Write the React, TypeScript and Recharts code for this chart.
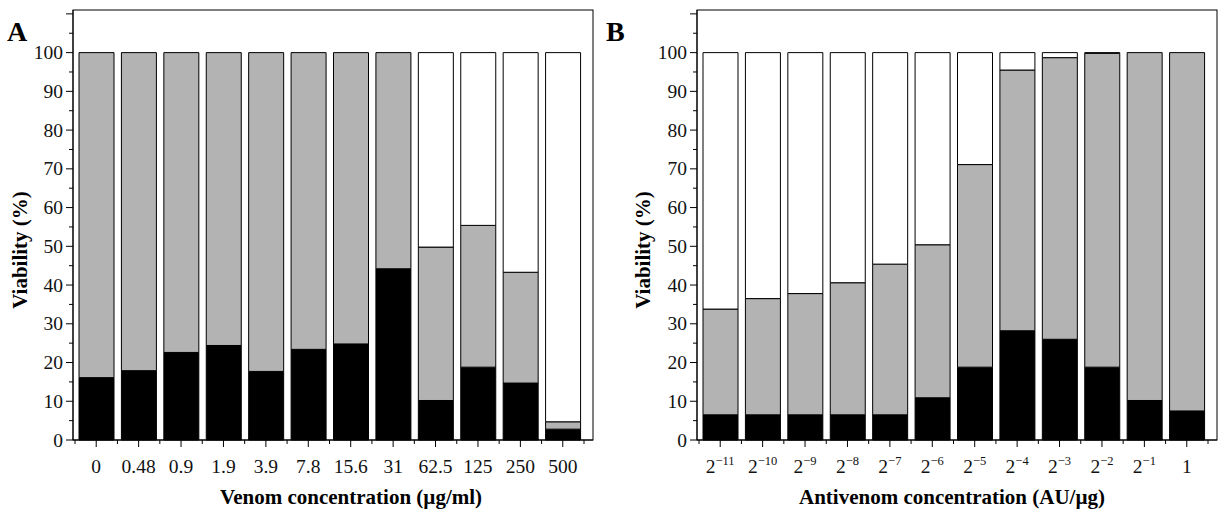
import { Bar, BarChart, XAxis, YAxis } from 'recharts';

const venomLabels = ['0', '0.48', '0.9', '1.9', '3.9', '7.8', '15.6', '31', '62.5', '125', '250', '500'];
const venomBlack = [16.1, 17.9, 22.6, 24.4, 17.7, 23.4, 24.8, 44.2, 10.2, 18.8, 14.7, 2.8];
const venomTop = [100, 100, 100, 100, 100, 100, 100, 100, 49.8, 55.4, 43.3, 4.7];

const antiLabels = ['2^-11', '2^-10', '2^-9', '2^-8', '2^-7', '2^-6', '2^-5', '2^-4', '2^-3', '2^-2', '2^-1', '1'];
const antiBlack = [6.5, 6.5, 6.5, 6.5, 6.5, 10.9, 18.8, 28.2, 26, 18.8, 10.2, 7.5];
const antiTop = [33.8, 36.5, 37.8, 40.6, 45.4, 50.4, 71.1, 95.5, 98.7, 99.8, 100, 100];

const yTicks = [0, 5, 10, 15, 20, 25, 30, 35, 40, 45, 50, 55, 60, 65, 70, 75, 80, 85, 90, 95, 100, 105, 110];

const FONT = "'Liberation Serif', 'Times New Roman', serif";
const GRAY = '#b3b3b3';
const PLOT_W = 520;
const PLOT_TOP = 10;
const PLOT_H = 430;
const PAD_L = 2;
const PAD_R = 9;

const build = (labels: string[], black: number[], top: number[]) =>
  labels.map((name, i) => ({
    name,
    black: black[i],
    gray: +(top[i] - black[i]).toFixed(2),
    white: +(100 - top[i]).toFixed(2),
  }));

const YTick = (props: any) => {
  const { x, y, payload } = props;
  const v = payload.value;
  const major = v % 10 === 0;
  return (
    <g>
      <line x1={x - (major ? 7 : 4)} x2={x} y1={y} y2={y} stroke="#000" />
      {major && v <= 100 && (
        <text x={x - 10} y={y} dy={6.5} textAnchor="end" fontFamily={FONT} fontSize={19.5} fill="#111">
          {v}
        </text>
      )}
    </g>
  );
};

const makeXTick = (n: number) => (props: any) => {
  const { x, y, payload, index } = props;
  const band = (PLOT_W - PAD_L - PAD_R) / n;
  const label: string = payload.value;
  const parts = label.split('^');
  return (
    <g>
      <line x1={x} x2={x} y1={y} y2={y + 7} stroke="#000" />
      <line x1={x - band / 2} x2={x - band / 2} y1={y} y2={y + 4} stroke="#000" />
      {index === n - 1 && <line x1={x + band / 2} x2={x + band / 2} y1={y} y2={y + 4} stroke="#000" />}
      {parts.length === 1 ? (
        <text x={x} y={y + 33} textAnchor="middle" fontFamily={FONT} fontSize={19.5} fill="#111">
          {label}
        </text>
      ) : (
        <text x={x} y={y + 33} textAnchor="middle" fontFamily={FONT} fontSize={19.5} fill="#111">
          {parts[0]}
          <tspan fontSize={12.5} dy={-8}>
            {parts[1].replace('-', '\u2212')}
          </tspan>
        </text>
      )}
    </g>
  );
};

function Panel({
  data,
  axisWidth,
  rightMargin,
}: {
  data: { name: string; black: number; gray: number; white: number }[];
  axisWidth: number;
  rightMargin: number;
}) {
  return (
    <BarChart
      width={axisWidth + PLOT_W + rightMargin}
      height={514}
      data={data}
      barSize={35}
      margin={{ top: PLOT_TOP, right: rightMargin, bottom: 514 - PLOT_TOP - PLOT_H - 40, left: 0 }}>
      <XAxis
        dataKey="name"
        interval={0}
        padding={{ left: PAD_L, right: PAD_R }}
        tickSize={0}
        tickMargin={0}
        tickLine={false}
        axisLine={{ stroke: '#000' }}
        height={40}
        tick={makeXTick(data.length)}
      />
      <YAxis
        domain={[0, 111]}
        ticks={yTicks}
        interval={0}
        width={axisWidth}
        tickSize={0}
        tickMargin={0}
        tickLine={false}
        axisLine={{ stroke: '#000' }}
        tick={YTick}
      />
      <Bar dataKey="black" stackId="s" fill="#000" stroke="#000" isAnimationActive={false} />
      <Bar dataKey="gray" stackId="s" fill={GRAY} stroke="#000" isAnimationActive={false} />
      <Bar dataKey="white" stackId="s" fill="#fff" stroke="#000" isAnimationActive={false} />
    </BarChart>
  );
}

export default function App() {
  const dataA = build(venomLabels, venomBlack, venomTop);
  const dataB = build(antiLabels, antiBlack, antiTop);
  return (
    <div style={{ position: 'absolute', left: 0, top: 0, width: 1219, height: 514, background: '#fff' }}>
      <div style={{ position: 'absolute', left: 0, top: 0 }}>
        <Panel data={dataA} axisWidth={73} rightMargin={7} />
      </div>
      <div style={{ position: 'absolute', left: 600, top: 0 }}>
        <Panel data={dataB} axisWidth={97} rightMargin={2} />
      </div>
      <svg
        width={1219}
        height={514}
        style={{ position: 'absolute', left: 0, top: 0, pointerEvents: 'none' }}
        fontFamily={FONT}
        fontWeight="bold">
        <rect x={73} y={PLOT_TOP} width={PLOT_W} height={PLOT_H} fill="none" stroke="#000" />
        <rect x={697} y={PLOT_TOP} width={PLOT_W} height={PLOT_H} fill="none" stroke="#000" />
        <text x={7} y={41} fontSize={28}>A</text>
        <text x={606} y={41} fontSize={28}>B</text>
        <text transform="translate(27,250) rotate(-90)" textAnchor="middle" fontSize={21}>
          Viability (%)
        </text>
        <text transform="translate(650,250) rotate(-90)" textAnchor="middle" fontSize={21}>
          Viability (%)
        </text>
        <text x={351} y={504} textAnchor="middle" fontSize={21}>
          Venom concentration (µg/ml)
        </text>
        <text x={952} y={504} textAnchor="middle" fontSize={21}>
          Antivenom concentration (AU/µg)
        </text>
      </svg>
    </div>
  );
}
